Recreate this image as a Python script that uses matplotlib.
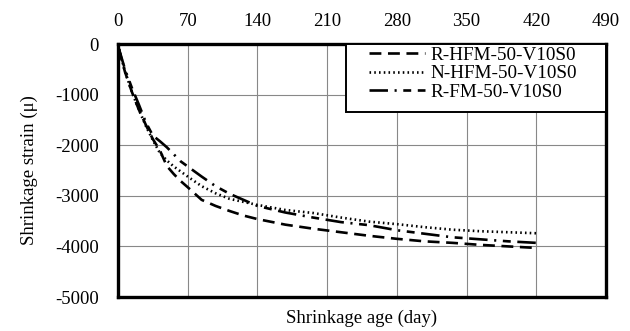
import matplotlib
matplotlib.use("Agg")
import matplotlib.pyplot as plt
from matplotlib.patches import Rectangle

plt.rcParams['font.family'] = ['Liberation Serif', 'DejaVu Serif']
plt.rcParams['axes.unicode_minus'] = False

days = [1, 4, 7, 14, 21, 28, 35, 42, 49, 56, 63, 70, 84, 98, 112, 126, 140,
        168, 196, 224, 252, 280, 308, 336, 364, 392, 420]
r_hfm = [-100, -330, -550, -950, -1300, -1600, -1880, -2100, -2410, -2570, -2710,
         -2830, -3080, -3200, -3300, -3390, -3460, -3570, -3650, -3720, -3790,
         -3850, -3900, -3930, -3970, -4000, -4030]
n_hfm = [-100, -320, -540, -950, -1300, -1620, -1900, -2150, -2300, -2420, -2520,
         -2620, -2810, -2950, -3060, -3120, -3180, -3280, -3340, -3430, -3510,
         -3560, -3620, -3670, -3700, -3720, -3740]
r_fm = [-100, -300, -500, -870, -1200, -1550, -1810, -1920, -2040, -2180, -2320,
        -2420, -2620, -2810, -2960, -3080, -3200, -3330, -3430, -3520, -3580,
        -3680, -3750, -3820, -3860, -3900, -3930]
labels = ['R-HFM-50-V10S0', 'N-HFM-50-V10S0', 'R-FM-50-V10S0']
xticks = [0, 70, 140, 210, 280, 350, 420, 490]
yticks = [0, -1000, -2000, -3000, -4000, -5000]

fig = plt.figure(figsize=(6.3, 3.31), dpi=100)
ax = fig.add_axes([0.1873, 0.1027, 0.7746, 0.7643])

lw = 1.9
ax.plot(days, r_hfm, color='black', lw=lw, dashes=(4.5, 2.5), label=labels[0])
ax.plot(days, n_hfm, color='black', lw=lw, dashes=(0.6, 1.2), label=labels[1])
ax.plot(days, r_fm, color='black', lw=lw, dashes=(7, 2.5, 0.8, 2.5, 3, 2.5), label=labels[2])

ax.set_xlim(0, 490)
ax.set_ylim(-5000, 0)
ax.set_xticks(xticks)
ax.set_yticks(yticks)
ax.xaxis.tick_top()
ax.tick_params(axis='y', length=0, labelsize=13.5, pad=14)
ax.tick_params(axis='x', length=0, labelsize=13.5, pad=10)
ax.grid(True, color='#888888', lw=0.8)
ax.set_axisbelow(True)
for s in ax.spines.values():
    s.set_linewidth(2.4)
    s.set_color('black')

ax.set_xlabel('Shrinkage age (day)', fontsize=13.5, labelpad=9)
ax.xaxis.set_label_position('bottom')
ax.set_ylabel('Shrinkage strain (μ)', fontsize=13.5, labelpad=12)

# legend frame
ax.add_patch(Rectangle((0.467, 0.731), 0.533, 0.269, transform=ax.transAxes,
                       facecolor='white', edgecolor='black', lw=1.4, zorder=4,
                       clip_on=False))
leg = ax.legend(loc='upper left', bbox_to_anchor=(0.515, 0.99), fontsize=13.8,
                frameon=False, handlelength=2.9, handletextpad=0.3,
                labelspacing=0.05, borderpad=0, borderaxespad=0)
leg.set_zorder(5)

fig.savefig('out.png', dpi=100)
